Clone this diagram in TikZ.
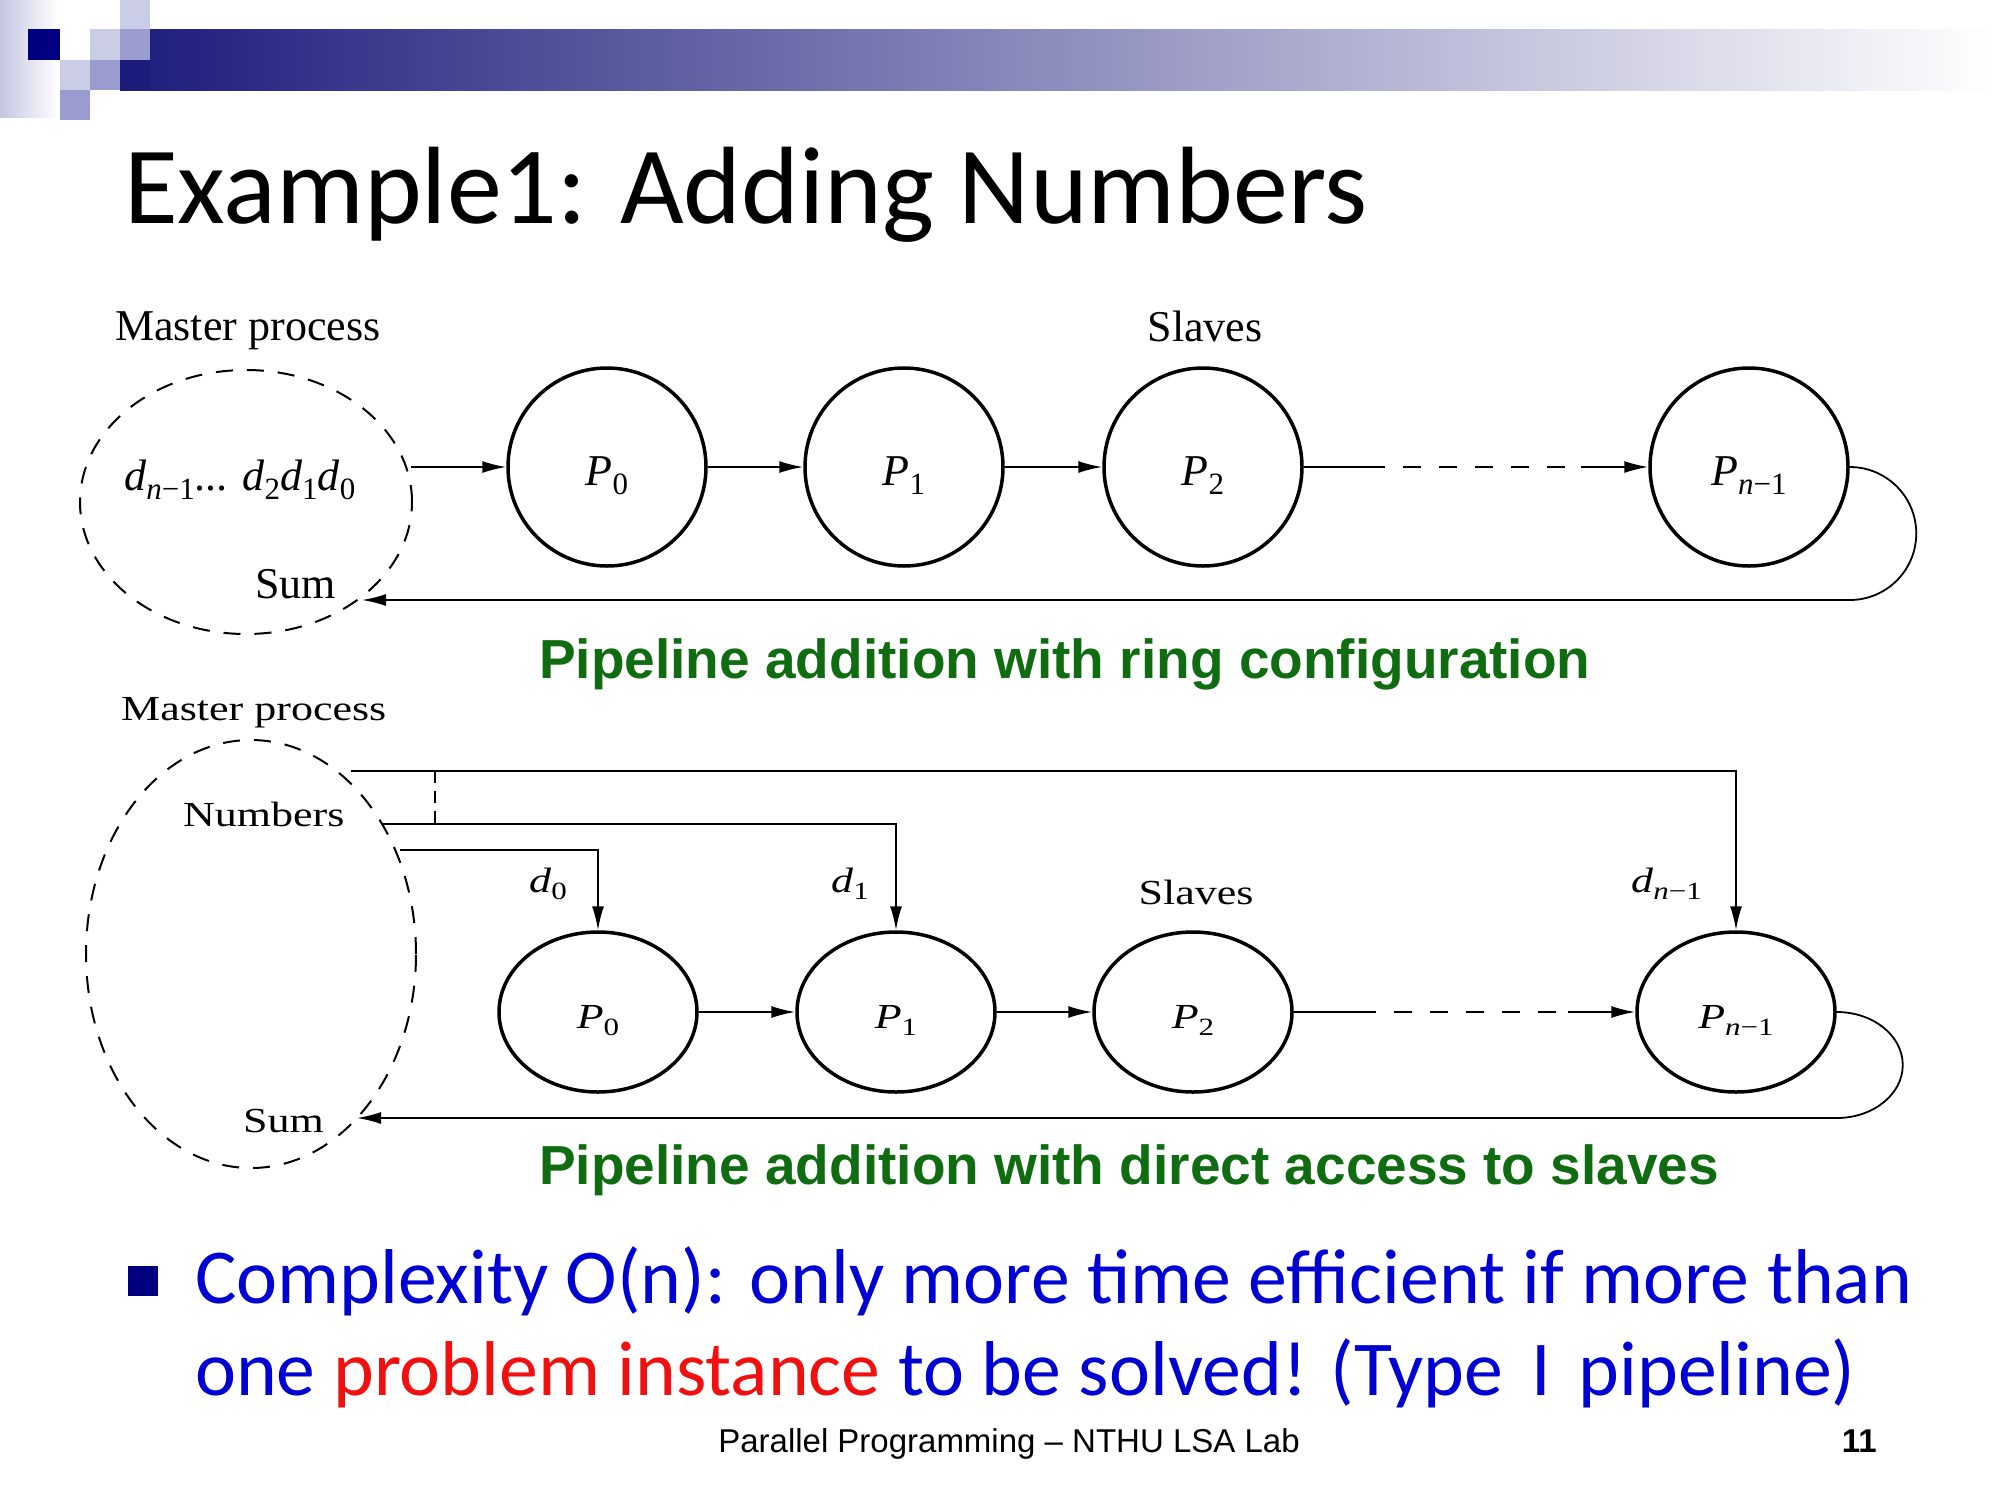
\documentclass[tikz,border=0pt]{standalone}
\usepackage{fontspec}
\setmainfont{Liberation Serif}
\newfontfamily\cali{Carlito}
\newfontfamily\arial{Liberation Sans}
\usetikzlibrary{arrows.meta,shapes.geometric}
\definecolor{navy}{RGB}{0,0,128}
\definecolor{sqlight}{RGB}{203,205,230}
\definecolor{sqmed}{RGB}{154,156,207}
\definecolor{bardark}{RGB}{28,28,124}
\definecolor{barmid}{RGB}{170,170,200}
\definecolor{lav}{RGB}{196,198,226}
\definecolor{capgreen}{RGB}{16,108,16}
\definecolor{bltext}{RGB}{0,0,210}
\definecolor{rdtext}{RGB}{240,16,16}
\newcommand\sbs[1]{\raisebox{-9pt}{\fontsize{31}{31}\selectfont #1}}
\newcommand\dsub[1]{\textit{d}\sbs{#1}}
\newcommand\psub[1]{\textit{P}\sbs{#1}}
\newcommand\sq[1]{\scalebox{1}[0.8]{#1}}
\begin{document}
\begin{tikzpicture}[x=1pt,y=-1pt,
  proc/.style={circle,draw,line width=3.5pt,minimum size=198pt,inner sep=0pt,text height=36pt,text depth=0pt},
  procb/.style={ellipse,draw,line width=3.5pt,minimum width=198pt,minimum height=160pt,inner sep=0pt,text height=32pt,text depth=0pt},
  masterell/.style={ellipse,draw,line width=2pt,dash pattern=on 17pt off 14pt,inner sep=0pt},
  conn/.style={line width=1.8pt,-{Latex[length=24pt,width=12pt]}},
  thinline/.style={line width=1.8pt},
  dashseg/.style={line width=1.8pt,dash pattern=on 18pt off 18pt},
  lbl/.style={inner sep=0pt,font={\fontsize{44}{53}\selectfont}},
  capt/.style={inner sep=0pt,anchor=base west,text=capgreen,font={\arial\bfseries\fontsize{55}{66}\selectfont}},
]
\useasboundingbox (0,0) rectangle (2000,1500);
\fill[white] (0,0) rectangle (2000,1500);
% header decoration
\shade[left color=lav, right color=white] (0,0) rectangle (58,117);
\shade[left color=bardark, middle color=barmid, right color=white] (120,29) rectangle (1995,90);
\fill[sqlight] (120,0) rectangle (150,29);
\fill[navy] (28,29) rectangle (60,60);
\fill[sqlight] (90,29) rectangle (120,60);
\fill[sqmed] (120,29) rectangle (150,60);
\fill[sqlight] (60,60) rectangle (90,90);
\fill[sqmed] (90,60) rectangle (120,90);
\fill[bardark] (120,60) rectangle (150,90);
\fill[sqmed] (60,90) rectangle (90,120);
% title
\node[anchor=base west,inner sep=0pt,font={\cali\fontsize{110}{130}\selectfont}] (title) at (124,223) {Example1: Adding Numbers};

% ---------- top diagram ----------
\node[lbl,anchor=base west] (mp1) at (115,340) {Master process};
\node[lbl,anchor=base] (sl1) at (1205,341) {Slaves};
\node[masterell,minimum width=332pt,minimum height=264pt] (M1) at (246,502) {};
\node[lbl,anchor=base west] (dd1) at (124,490) {\dsub{\textit{n}−1}... \dsub{2}\dsub{1}\dsub{0}};
\node[lbl,anchor=base west] (sum1) at (255,598) {Sum};
\node[proc,font={\fontsize{44}{53}\selectfont}] (P0) at (607,467) {\psub{0}};
\node[proc,font={\fontsize{44}{53}\selectfont}] (P1) at (904,467) {\psub{1}};
\node[proc,font={\fontsize{44}{53}\selectfont}] (P2) at (1203,467) {\psub{2}};
\node[proc,font={\fontsize{44}{53}\selectfont}] (Pn) at (1749,467) {\psub{\textit{n}−1}};
\coordinate (s1) at (411,467);
\coordinate (a1) at (1367,467);
\coordinate (b1) at (1581,467);
\coordinate (t1) at (362,600);
\draw[conn] (s1) -- (P0);
\draw[conn] (P0) -- (P1);
\draw[conn] (P1) -- (P2);
\draw[thinline] (P2) -- (a1);
\draw[dashseg] (a1) -- (b1);
\draw[conn] (b1) -- (Pn);
\draw[conn] (Pn.east) arc[start angle=90,end angle=-90,radius=66.5pt] -- (t1);
\node[capt] (cap1) at (539,678) {Pipeline addition with ring configuration};

% ---------- bottom diagram ----------
\node[lbl,anchor=base west] (mp2) at (121,720) {\sq{Master process}};
\node[masterell,minimum width=330pt,minimum height=428pt] (M2) at (251,954) {};
\node[lbl,anchor=base west] (num) at (183,826) {\sq{Numbers}};
\node[lbl,anchor=base west] (sum2) at (243,1132) {\sq{Sum}};
\node[lbl,anchor=base west] (d0) at (529,892) {\sq{\dsub{0}}};
\node[lbl,anchor=base west] (d1) at (831,892) {\sq{\dsub{1}}};
\node[lbl,anchor=base] (sl2) at (1196,904) {\sq{Slaves}};
\node[lbl,anchor=base west] (dn) at (1631,892) {\sq{\dsub{\textit{n}−1}}};
\node[procb,font={\fontsize{44}{53}\selectfont}] (Q0) at (598,1012) {\sq{\psub{0}}};
\node[procb,font={\fontsize{44}{53}\selectfont}] (Q1) at (896,1012) {\sq{\psub{1}}};
\node[procb,font={\fontsize{44}{53}\selectfont}] (Q2) at (1193,1012) {\sq{\psub{2}}};
\node[procb,font={\fontsize{44}{53}\selectfont}] (Qn) at (1736,1012) {\sq{\psub{\textit{n}−1}}};
\coordinate (c1) at (351,771);
\coordinate (c2) at (383,824);
\coordinate (c3) at (400,850);
\coordinate (v1) at (435,771);
\coordinate (v2) at (435,824);
\coordinate (a2) at (1358,1012);
\coordinate (b2) at (1568,1012);
\coordinate (t2) at (357,1118);
\draw[conn] (c1) -| (Qn);
\draw[conn] (c2) -| (Q1);
\draw[conn] (c3) -| (Q0);
\draw[thinline,dash pattern=on 12pt off 8pt] (v1) -- (v2);
\draw[conn] (Q0) -- (Q1);
\draw[conn] (Q1) -- (Q2);
\draw[thinline] (Q2) -- (a2);
\draw[dashseg] (a2) -- (b2);
\draw[conn] (b2) -- (Qn);
\draw[conn] (Qn.east) arc[start angle=90,end angle=-90,x radius=66pt,y radius=53pt] -- (t2);
\node[capt] (cap2) at (539,1184) {Pipeline addition with direct access to slaves};

% ---------- bullet ----------
\fill[navy] (128,1266) rectangle (158,1296);
\node[anchor=base west,inner sep=0pt,text=bltext,font={\cali\fontsize{77.7}{92}\selectfont}] (l1) at (195,1303) {Complexity O(n): only more time efficient if more than};
\node[anchor=base west,inner sep=0pt,text=bltext,font={\cali\fontsize{77.7}{92}\selectfont}] (l2) at (195,1395) {one \textcolor{rdtext}{problem instance} to be solved! (Type\hspace{28pt}I\hspace{28pt}pipeline)};
% footer
\node[anchor=base,inner sep=0pt,font={\arial\fontsize{33}{40}\selectfont}] (foot) at (1009,1452) {Parallel Programming – NTHU LSA Lab};
\node[anchor=base east,inner sep=0pt,font={\arial\bfseries\fontsize{33}{40}\selectfont}] (pg) at (1877,1452) {11};
\end{tikzpicture}
\end{document}
